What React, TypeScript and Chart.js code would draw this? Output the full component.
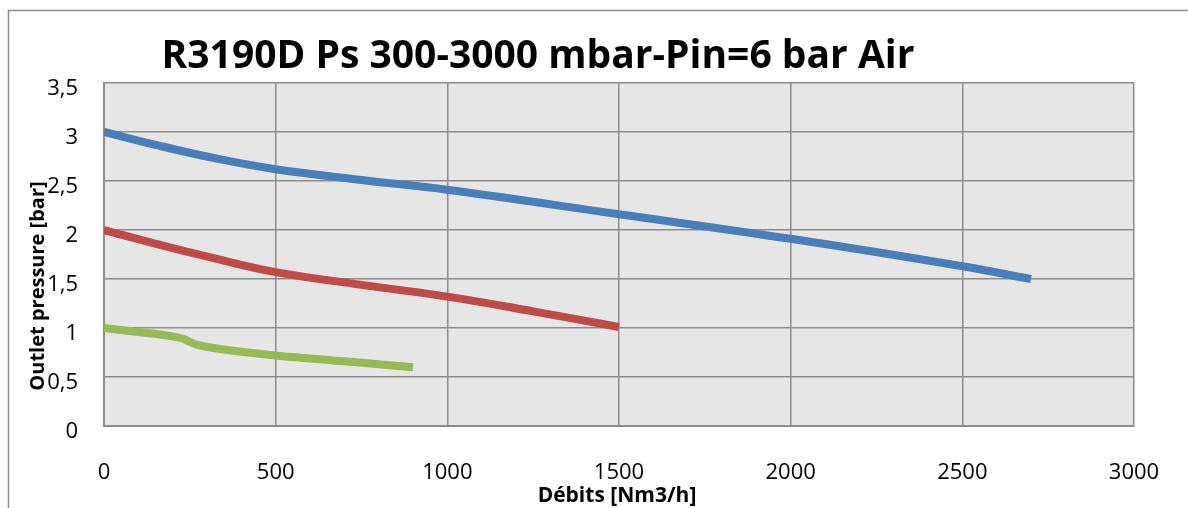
import React, { useEffect, useRef } from "react";
import { Chart, registerables } from "chart.js";
Chart.register(...registerables);

const chartTitle = "R3190D Ps 300-3000 mbar-Pin=6 bar Air";
const xTitle = "Débits [Nm3/h]";
const yTitle = "Outlet pressure [bar]";

const blueX = [0, 160, 340, 500, 750, 1000, 1500, 2000, 2500, 2700];
const blueY = [3.0, 2.86, 2.72, 2.62, 2.51, 2.41, 2.16, 1.91, 1.63, 1.5];
const redX = [0, 160, 310, 500, 750, 1000, 1250, 1500];
const redY = [2.0, 1.85, 1.72, 1.57, 1.44, 1.32, 1.17, 1.01];
const greenX = [0, 100, 200, 230, 270, 350, 500, 700, 900];
const greenY = [1.0, 0.96, 0.915, 0.89, 0.83, 0.78, 0.72, 0.66, 0.6];

const pts = (xs: number[], ys: number[]) => xs.map((x, i) => ({ x, y: ys[i] }));

const FONT = "'Open Sans', 'Noto Sans', sans-serif";

export default function App() {
  const ref = useRef<HTMLCanvasElement>(null);
  useEffect(() => {
    const decor = {
      id: "decor",
      beforeDraw(chart: any) {
        const { ctx, chartArea: a } = chart;
        ctx.save();
        ctx.fillStyle = "#ffffff";
        ctx.fillRect(0, 0, chart.width, chart.height);
        ctx.strokeStyle = "#8c8c8c";
        ctx.lineWidth = 1.5;
        ctx.strokeRect(8.5, 10.5, 1300, 600);
        ctx.fillStyle = "#e6e6e6";
        ctx.fillRect(a.left, a.top, a.right - a.left, a.bottom - a.top);
        ctx.restore();
      },
      afterDraw(chart: any) {
        const { ctx } = chart;
        ctx.save();
        ctx.fillStyle = "#000";
        ctx.textAlign = "center";
        ctx.textBaseline = "middle";
        ctx.font = `bold 39px ${FONT}`;
        ctx.fillText(chartTitle, 538, 57);
        ctx.font = `bold 21px ${FONT}`;
        ctx.fillText(xTitle, 617, 496);
        ctx.font = `bold 20px ${FONT}`;
        ctx.translate(38, 286);
        ctx.rotate(-Math.PI / 2);
        ctx.fillText(yTitle, 0, 0);
        ctx.restore();
      },
    };
    const chart = new Chart(ref.current!, {
      type: "line",
      data: {
        datasets: [
          { data: pts(blueX, blueY), borderColor: "#4a7ebb", borderWidth: 8 },
          { data: pts(redX, redY), borderColor: "#be4b48", borderWidth: 8 },
          { data: pts(greenX, greenY), borderColor: "#98b954", borderWidth: 8 },
        ],
      },
      options: {
        animation: false,
        responsive: false,
        maintainAspectRatio: false,
        layout: { padding: { left: 0, top: 83, right: 54, bottom: 0 } },
        elements: {
          point: { radius: 0 },
          line: { tension: 0.4, borderCapStyle: "butt", borderJoinStyle: "round" },
        },
        plugins: { legend: { display: false }, tooltip: { enabled: false }, title: { display: false } },
        scales: {
          x: {
            type: "linear",
            min: 0,
            max: 3000,
            afterFit(s: any) { s.height = 82; s.paddingRight = 0; s.paddingLeft = 0; },
            ticks: {
              stepSize: 500,
              padding: 34,
              color: "#000",
              font: { family: FONT, size: 22 },
              maxRotation: 0,
              callback: (v: any) => String(v),
            },
            grid: { color: "#8c8c8c", lineWidth: 1.5, drawTicks: false },
            border: { color: "#8c8c8c", width: 2 },
          },
          y: {
            min: 0,
            max: 3.5,
            afterFit(s: any) { s.width = 104; },
            ticks: {
              stepSize: 0.5,
              padding: 26,
              labelOffset: 6,
              color: "#000",
              font: { family: FONT, size: 22 },
              callback: (v: any) => String(v).replace(".", ","),
            },
            grid: { color: "#8c8c8c", lineWidth: 1.5, drawTicks: false },
            border: { color: "#8c8c8c", width: 2 },
          },
        },
      },
      plugins: [decor],
    });
    return () => chart.destroy();
  }, []);
  return (
    <div style={{ position: "absolute", left: 0, top: 0, width: 1188, height: 508 }}>
      <canvas ref={ref} width={1188} height={508} style={{ width: 1188, height: 508 }} />
    </div>
  );
}
